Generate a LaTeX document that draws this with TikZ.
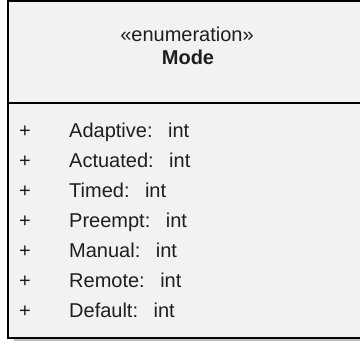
\documentclass[tikz,border=0pt]{standalone}
\usepackage{fontspec}
\setmainfont{Liberation Sans}
\definecolor{boxfill}{HTML}{F2F2F2}
\definecolor{shadowgray}{HTML}{BDBDBD}
\definecolor{txt}{HTML}{1E1E1E}
\tikzset{
  umltext/.style={inner sep=0pt, text=txt, font=\fontsize{20}{24}\selectfont},
  attrname/.style={umltext, anchor=base west},
  vis/.style={umltext, anchor=base},
  boxline/.style={draw=black, line width=2pt},
}
\begin{document}
\begin{tikzpicture}[x=1pt,y=-1pt]
\useasboundingbox (0,0) rectangle (360,341);
\clip (0,0) rectangle (360,341);
\fill[shadowgray] (14,6) rectangle (372,342);
\draw[boxline, fill=boxfill] (8,1) rectangle (366,337.5);
\draw[line width=1.7pt] (8,103) -- (366,103);
\node[vis] (stereo) at (187,41.7) {«enumeration»};
\node[vis, font=\fontsize{20}{24}\selectfont\bfseries] (name) at (188,64.3) {Mode};
\foreach \t [count=\i from 0] in {Adaptive,Actuated,Timed,Preempt,Manual,Remote,Default}{
  \node[vis] (plus\i) at (25,137.7+30*\i) {+};
  \node[attrname] (attr\i) at (69,137.7+30*\i) {\t:\hspace{15.5pt}int};
}
\end{tikzpicture}
\end{document}
